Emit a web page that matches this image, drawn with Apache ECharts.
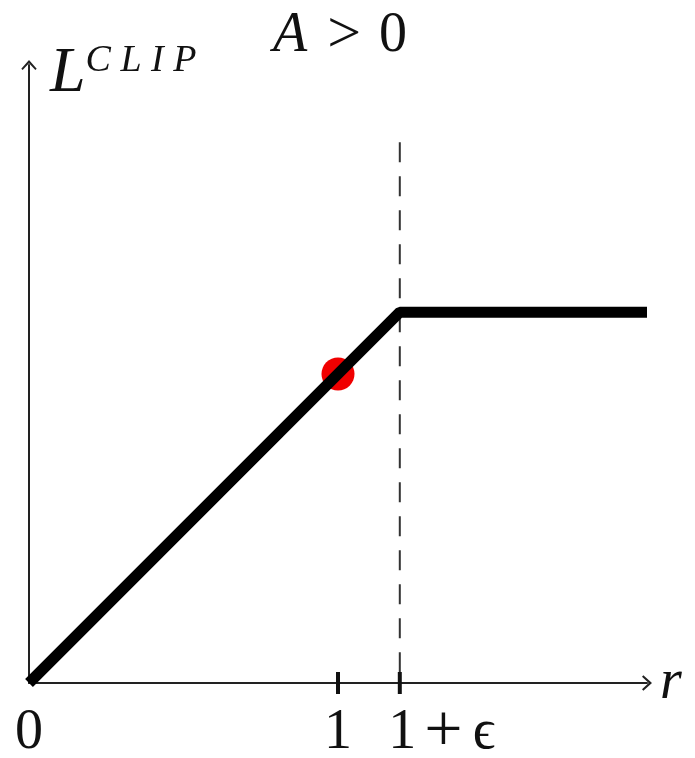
<!DOCTYPE html>
<html>
<head>
<meta charset="utf-8">
<script src="https://cdn.jsdelivr.net/npm/echarts@6/dist/echarts.min.js"></script>
<style>
  html, body { margin: 0; padding: 0; background: #fff; }
  #main { width: 695px; height: 758px; }
</style>
</head>
<body>
<div id="main"></div>
<script>
// clipped objective for A > 0
const clipX = [0, 1.2, 2];
const clipY = [0, 1.2, 1.2];
const ratioPoint = [1, 1];        // the red dot, r = 1
const epsBound = 1.2;             // 1 + epsilon
const dashTop = 1.75;
const tickValues = [0, 1, 1.2];
const tickLabels = ['0', '1', '1 + ϵ'];
const markedTicks = [1, 1.2];

const serif = 'Liberation Serif, Times New Roman, serif';
const arrow = 'path://M0,0 L8,9 L6.6,10.4 L0,3.4 L-6.6,10.4 L-8,9 Z';

const chart = echarts.init(document.getElementById('main'));

// tick labels drawn as labels of zero-size points on the r axis
const labelData = tickValues.map((v, i) => {
  const parts = tickLabels[i].split(' ');
  const item = { value: [v, 0], name: tickLabels[i] };
  if (parts.length === 3) {
    item.label = {
      padding: [0, 0, 0, 84],
      formatter: '{a|' + parts[0] + '}{p|' + parts[1] + '}{b|' + parts[2] + '}'
    };
  }
  return item;
});

const option = {
  backgroundColor: '#fff',
  animation: false,
  title: {
    text: '{i|A}{g|>}{n|0}',
    left: 268,
    top: 1,
    textStyle: {
      fontWeight: 'normal',
      rich: {
        i: { fontFamily: serif, fontSize: 56, fontStyle: 'italic', fontWeight: 'normal', color: '#111' },
        g: { fontFamily: serif, fontSize: 60, fontWeight: 'normal', color: '#111', padding: [0, 18, 0, 20] },
        n: { fontFamily: serif, fontSize: 56, fontWeight: 'normal', color: '#111' }
      }
    }
  },
  grid: { left: 29, top: 65, width: 618, height: 618, outerBoundsMode: 'none' },
  xAxis: {
    type: 'value',
    min: 0,
    max: 2,
    name: 'r',
    nameLocation: 'end',
    nameGap: 13,
    nameTextStyle: {
      fontFamily: serif,
      fontSize: 56,
      fontStyle: 'italic',
      color: '#111',
      align: 'left',
      verticalAlign: 'middle',
      padding: [0, 0, 18, 0]
    },
    axisLine: {
      lineStyle: { color: '#222', width: 2 },
      symbol: ['none', arrow],
      symbolSize: [17, 10]
    },
    axisTick: { show: false },
    splitLine: { show: false },
    axisLabel: { show: false }
  },
  yAxis: {
    type: 'value',
    min: 0,
    max: 2,
    name: '{L|L}{s|C L I P}',
    nameLocation: 'end',
    nameGap: -41,
    nameTextStyle: {
      align: 'left',
      verticalAlign: 'bottom',
      padding: [0, 0, 0, 21],
      rich: {
        L: { fontFamily: serif, fontSize: 64, fontStyle: 'italic', color: '#111', lineHeight: 64 },
        s: { fontFamily: serif, fontSize: 38, fontStyle: 'italic', color: '#111', verticalAlign: 'top', lineHeight: 38 }
      }
    },
    axisLine: {
      lineStyle: { color: '#222', width: 2 },
      symbol: ['none', arrow],
      symbolSize: [17, 10]
    },
    axisTick: { show: false },
    splitLine: { show: false },
    axisLabel: { show: false }
  },
  series: [
    {
      // dashed bound at r = 1 + epsilon
      type: 'line',
      data: [[epsBound, dashTop], [epsBound, 0]],
      symbol: 'none',
      lineStyle: { color: '#333', width: 2, type: [20, 14] },
      z: 1
    },
    {
      type: 'scatter',
      data: [ratioPoint],
      symbol: 'circle',
      symbolSize: 33,
      itemStyle: { color: '#f00000', opacity: 1 },
      z: 2
    },
    {
      type: 'line',
      data: clipX.map((x, i) => [x, clipY[i]]),
      symbol: 'none',
      lineStyle: { color: '#000', width: 11 },
      z: 3
    },
    {
      // tick marks on the r axis
      type: 'scatter',
      data: markedTicks.map(x => [x, 0]),
      symbol: 'rect',
      symbolSize: [4, 22],
      itemStyle: { color: '#111', opacity: 1 },
      z: 4
    },
    {
      // tick labels
      type: 'scatter',
      data: labelData,
      symbolSize: 0,
      silent: true,
      itemStyle: { color: '#111', opacity: 1 },
      label: {
        show: true,
        position: 'bottom',
        distance: 22,
        formatter: '{b}',
        fontFamily: serif,
        fontSize: 56,
        lineHeight: 56,
        color: '#111',
        opacity: 1,
        rich: {
          a: { fontFamily: serif, fontSize: 56, lineHeight: 56, color: '#111' },
          p: { fontFamily: serif, fontSize: 68, lineHeight: 56, color: '#111', verticalAlign: 'middle', padding: [0, 10, 0, 8] },
          b: { fontFamily: serif, fontSize: 56, lineHeight: 56, color: '#111' }
        }
      },
      z: 5
    }
  ]
};

chart.setOption(option);
</script>
</body>
</html>
